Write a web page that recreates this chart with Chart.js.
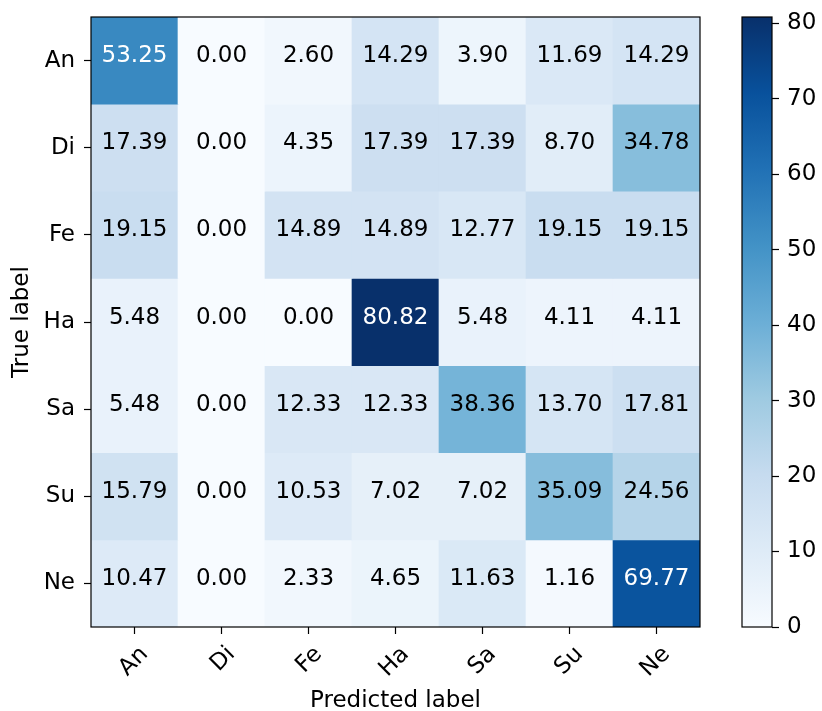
<!DOCTYPE html>
<html>
<head>
<meta charset="utf-8">
<script src="https://cdn.jsdelivr.net/npm/chart.js@4.4.1/dist/chart.umd.min.js"></script>
<style>
  body { margin: 0; background: #fff; }
  #wrap { position: relative; width: 822px; height: 711px; }
  #main { position: absolute; left: 0; top: 0; width: 720px; height: 711px; }
  #bar { position: absolute; left: 700px; top: 0; width: 122px; height: 711px; }
</style>
</head>
<body>
<div id="wrap">
  <div id="main"><canvas id="canvas"></canvas></div>
  <div id="bar"><canvas id="cbar"></canvas></div>
</div>
<script>
// confusion matrix, rows = true label, cols = predicted label (percent)
var labels = ["An", "Di", "Fe", "Ha", "Sa", "Su", "Ne"]
var row_an = [53.25, 0.00, 2.60, 14.29, 3.90, 11.69, 14.29]
var row_di = [17.39, 0.00, 4.35, 17.39, 17.39, 8.70, 34.78]
var row_fe = [19.15, 0.00, 14.89, 14.89, 12.77, 19.15, 19.15]
var row_ha = [5.48, 0.00, 0.00, 80.82, 5.48, 4.11, 4.11]
var row_sa = [5.48, 0.00, 12.33, 12.33, 38.36, 13.70, 17.81]
var row_su = [15.79, 0.00, 10.53, 7.02, 7.02, 35.09, 24.56]
var row_ne = [10.47, 0.00, 2.33, 4.65, 11.63, 1.16, 69.77]
var cbar_ticks = [0, 10, 20, 30, 40, 50, 60, 70, 80]

var rows = [row_an, row_di, row_fe, row_ha, row_sa, row_su, row_ne]
var vmax = Math.max.apply(null, rows.map(function(r) { return Math.max.apply(null, r) }))

// matplotlib "Blues"
var blues = ["#f7fbff", "#deebf7", "#c6dbef", "#9ecae1", "#6baed6", "#4292c6", "#2171b5", "#08519c", "#08306b"]
function hex(h) { return [parseInt(h.substr(1, 2), 16), parseInt(h.substr(3, 2), 16), parseInt(h.substr(5, 2), 16)] }
function cmap(v) {
    var t = Math.max(0, Math.min(1, v / vmax)) * (blues.length - 1)
    var i = Math.min(Math.floor(t), blues.length - 2)
    var f = t - i
    var a = hex(blues[i]), b = hex(blues[i + 1])
    var c = a.map(function(x, k) { return Math.round(x + (b[k] - x) * f) })
    return "rgb(" + c.join(",") + ")"
}

var FONT = { family: "'DejaVu Sans'", size: 23, lineHeight: 1.2 }

// keep the plot box where it is, don't let tick labels push it around
function noPad(s) { s.paddingTop = 0; s.paddingBottom = 0; s.paddingLeft = 0; s.paddingRight = 0 }

var frame = {
    id: "frame",
    afterDraw: function(chart) {
        var a = chart.chartArea, ctx = chart.ctx
        ctx.save()
        ctx.strokeStyle = "#000"
        ctx.lineWidth = 1.2
        ctx.strokeRect(a.left, a.top, a.right - a.left, a.bottom - a.top)
        ctx.restore()
    }
}

var cellText = {
    id: "cellText",
    afterDatasetsDraw: function(chart) {
        var ctx = chart.ctx
        ctx.save()
        ctx.font = "23px 'DejaVu Sans'"
        ctx.textAlign = "center"
        ctx.textBaseline = "alphabetic"
        chart.data.datasets.forEach(function(ds, i) {
            chart.getDatasetMeta(i).data.forEach(function(el, j) {
                var v = rows[i][j]
                ctx.fillStyle = v > vmax / 2 ? "#fff" : "#000"
                ctx.fillText(v.toFixed(2), el.x, (el.y + el.base) / 2 + 1.5)
            })
        })
        ctx.restore()
    }
}

var datasets = rows.map(function(r, i) {
    return {
        label: labels[i],
        data: r.map(function() { return [i, i + 1] }),
        backgroundColor: r.map(cmap),
        borderWidth: 0,
        barPercentage: 1,
        categoryPercentage: 1,
        grouped: false
    }
})

var tickGrid = { display: true, drawOnChartArea: false, drawTicks: true, tickLength: 7, tickWidth: 1.2, tickColor: "#000", offset: false }

new Chart(document.getElementById("canvas"), {
    type: "bar",
    data: { labels: labels, datasets: datasets },
    options: {
        responsive: true,
        maintainAspectRatio: false,
        animation: false,
        layout: { padding: { top: 17, right: 20, left: 0, bottom: 0 } },
        plugins: { legend: { display: false }, tooltip: { enabled: false } },
        scales: {
            x: {
                grid: tickGrid,
                border: { display: false },
                ticks: { color: "#000", font: FONT, minRotation: 45, maxRotation: 45, autoSkip: false, padding: 7, labelOffset: 10 },
                title: { display: true, text: "Predicted label", color: "#000", font: FONT, padding: { top: 0, bottom: -4 } },
                afterFit: function(s) { s.height = 84; noPad(s) }
            },
            y: {
                min: 0, max: 7, reverse: true,
                grid: tickGrid,
                border: { display: false },
                afterBuildTicks: function(s) { s.ticks = labels.map(function(l, i) { return { value: i + 0.5 } }) },
                ticks: { color: "#000", font: FONT, padding: 9, callback: function(v) { return labels[Math.floor(v)] } },
                title: { display: true, text: "True label", color: "#000", font: FONT, padding: { top: 8, bottom: 0 } },
                afterFit: function(s) { s.width = 91; noPad(s) }
            }
        }
    },
    plugins: [cellText, frame]
})

new Chart(document.getElementById("cbar"), {
    type: "bar",
    data: {
        labels: [""],
        datasets: [{
            data: [[0, vmax]],
            borderWidth: 0,
            barPercentage: 1,
            categoryPercentage: 1,
            backgroundColor: function(c) {
                var a = c.chart.chartArea
                if (!a) return blues[0]
                var g = c.chart.ctx.createLinearGradient(0, a.bottom, 0, a.top)
                blues.forEach(function(col, k) { g.addColorStop(k / (blues.length - 1), col) })
                return g
            }
        }]
    },
    options: {
        responsive: true,
        maintainAspectRatio: false,
        animation: false,
        layout: { padding: { top: 17, left: 42, right: 0, bottom: 84 } },
        plugins: { legend: { display: false }, tooltip: { enabled: false } },
        scales: {
            x: { display: false },
            y: {
                position: "right",
                min: 0, max: vmax,
                grid: { display: true, drawOnChartArea: false, drawTicks: true, tickLength: 7, tickWidth: 1.2, tickColor: "#000" },
                border: { display: false },
                afterBuildTicks: function(s) { s.ticks = cbar_ticks.map(function(v) { return { value: v } }) },
                ticks: { color: "#000", font: FONT, padding: 8 },
                afterFit: function(s) { s.width = 50; noPad(s) }
            }
        }
    },
    plugins: [frame]
})
</script>
</body>
</html>
